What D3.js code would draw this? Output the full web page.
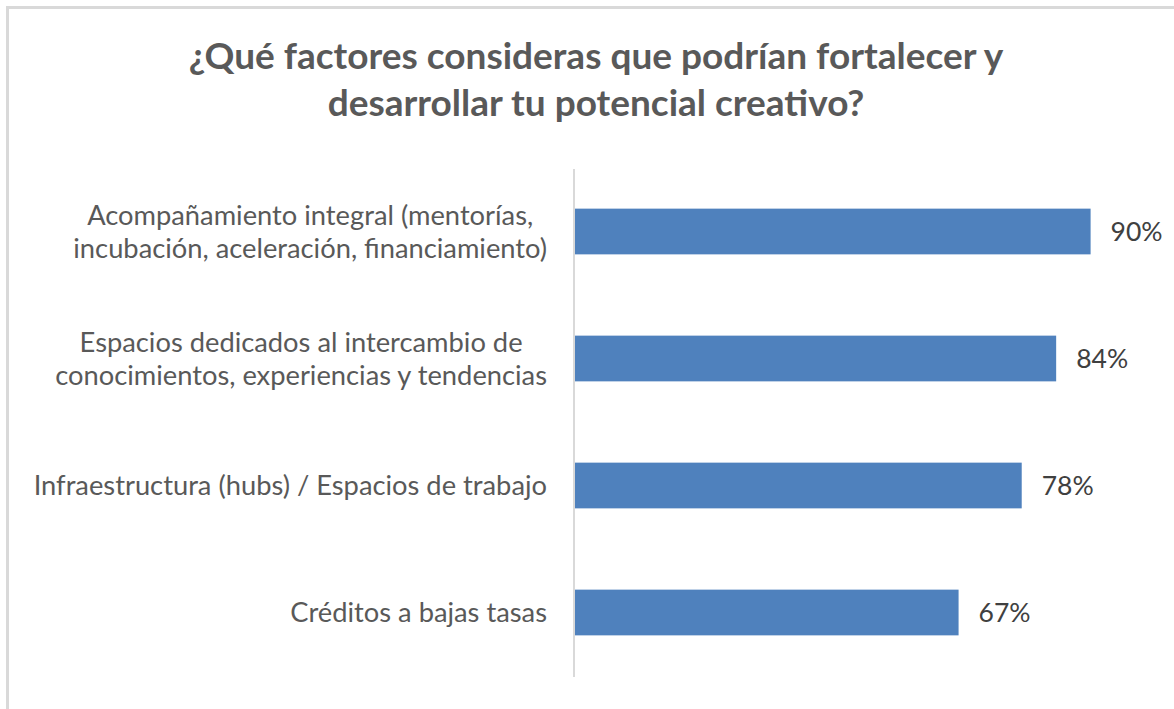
<!DOCTYPE html>
<html><head><meta charset="utf-8">
<script src="https://cdn.jsdelivr.net/npm/d3@7"></script>
<style>body{margin:0;background:#fff}svg{display:block}</style>
</head><body>
<script>
const titleLines = ["¿Qué factores consideras que podrían fortalecer y", "desarrollar tu potencial creativo?"];
const categories = [
  ["Acompañamiento integral (mentorías,", "incubación, aceleración, financiamiento)"],
  ["Espacios dedicados al intercambio de", "conocimientos, experiencias y tendencias"],
  ["Infraestructura (hubs) / Espacios de trabajo"],
  ["Créditos a bajas tasas"]
];
const values = [0.90, 0.84, 0.78, 0.67];

const W = 1174, H = 709;
const font = "Lato, 'Open Sans', sans-serif";
const svg = d3.select("body").append("svg").attr("width", W).attr("height", H);
svg.append("rect").attr("x", 7.5).attr("y", 7.5).attr("width", W + 10).attr("height", H + 10)
  .attr("fill", "#fff").attr("stroke", "#d9d9d9").attr("stroke-width", 3);

svg.append("g").selectAll("text").data(titleLines).join("text")
  .attr("x", 596).attr("y", (d, i) => 69 + i * 47)
  .attr("text-anchor", "middle").attr("font-family", font).attr("font-weight", "bold")
  .attr("font-size", 37).attr("fill", "#595959").text(d => d);

const x = d3.scaleLinear().domain([0, 1]).range([574, 1148]);
const idx = d3.range(categories.length);
const y = d3.scaleBand().domain(idx).range([168, 676]).paddingInner(0.64).paddingOuter(0.32);

svg.append("g").selectAll("rect").data(values).join("rect")
  .attr("x", x(0)).attr("y", (d, i) => y(i)).attr("width", d => x(d) - x(0))
  .attr("height", y.bandwidth()).attr("fill", "#4f81bd");

svg.append("line").attr("x1", 574).attr("x2", 574).attr("y1", 169).attr("y2", 677)
  .attr("stroke", "#d9d9d9").attr("stroke-width", 2);

const fsVal = 26.5, fs = 27.3;
svg.append("g").selectAll("text").data(values).join("text")
  .attr("x", d => x(d) + 20).attr("y", (d, i) => y(i) + y.bandwidth() / 2 + fsVal * 0.36)
  .attr("font-family", font).attr("font-size", fsVal).attr("fill", "#404040")
  .text(d => d3.format(".0%")(d));

const lineH = 33, rightEdge = 547;
const lab = svg.append("g").selectAll("g").data(categories).join("g");
lab.each(function (d, i) {
  const g = d3.select(this);
  const t = g.selectAll("text").data(d).join("text")
    .attr("font-family", font).attr("font-size", fs).attr("fill", "#595959")
    .attr("text-anchor", "middle")
    .attr("y", (s, j) => y(i) + y.bandwidth() / 2 + fs * 0.35 + (j - (d.length - 1) / 2) * lineH)
    .text(s => s);
  let maxW = 0;
  t.each(function () { maxW = Math.max(maxW, this.getComputedTextLength()); });
  t.attr("x", rightEdge - maxW / 2);
});
</script>
</body></html>
